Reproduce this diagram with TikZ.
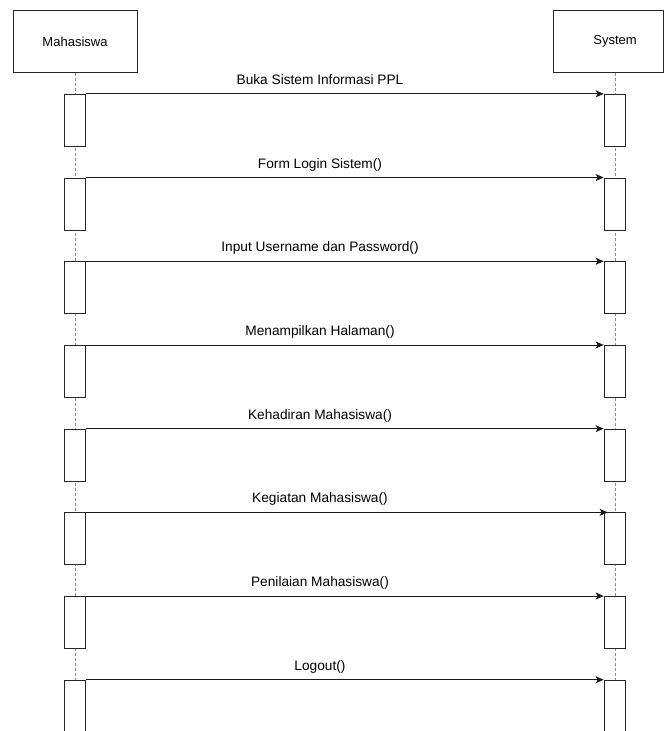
\documentclass[tikz,border=0pt]{standalone}
\usepackage{fontspec}
\setmainfont{Liberation Sans}
\usetikzlibrary{arrows.meta}
\begin{document}
\begin{tikzpicture}[x=1pt,y=-1pt,
  actorbox/.style={draw=black!85, line width=0.9pt, fill=white, minimum height=62pt, inner sep=0pt, font=\fontsize{13}{15}\selectfont},
  actortext/.style={inner sep=0pt, font=\fontsize{13}{15}\selectfont},
  actbox/.style={draw=black!85, line width=0.9pt, fill=white, minimum width=21.4pt, minimum height=52pt, inner sep=0pt},
  life/.style={draw=black!45, line width=1pt, dash pattern=on 3pt off 2pt},
  msg/.style={draw=black!90, line width=0.9pt, -{Stealth[length=8pt,width=7pt,inset=2pt]}},
  msglabel/.style={font=\fontsize{13.7}{16}\selectfont, anchor=base, inner sep=0pt}]
\useasboundingbox (0,0) rectangle (664,731);
\clip (0,0) rectangle (664,731);
% actors
\node[actorbox, minimum width=124pt] (mhs) at (75,41.7) {Mahasiswa};
\node[actorbox, minimum width=110.5pt] (sys) at (608.25,41.7) {};
\node[actortext] (systxt) at (615,41.7) {System};
\coordinate (mhsl) at (75,72.7);
\coordinate (sysl) at (615,72.7);
\coordinate (mhse) at (75,735);
\coordinate (syse) at (615,735);
% lifelines
\draw[life] (mhsl) -- (mhse);
\draw[life] (sysl) -- (syse);
% messages
\foreach \i/\t in {1/Buka Sistem Informasi PPL,
                   2/Form Login Sistem(),
                   3/Input Username dan Password(),
                   4/Menampilkan Halaman(),
                   5/Kehadiran Mahasiswa(),
                   6/Kegiatan Mahasiswa(),
                   7/Penilaian Mahasiswa(),
                   8/Logout()}{
  \pgfmathsetmacro{\ytop}{94.3+83.7*(\i-1)}
  \pgfmathsetmacro{\ymid}{\ytop+26}
  \pgfmathsetmacro{\ylab}{\ytop-10}
  \node[actbox] (m\i) at (75,\ymid) {};
  \node[actbox] (s\i) at (614.8,\ymid) {};
  \node[msglabel] (l\i) at (320,\ylab) {\t};
}
\foreach \i in {1,2,3,4,5,7,8}{
  \draw[msg] (m\i.north east) -- (s\i.north west);
}
\draw[msg] (m6.north east) -- ([xshift=4pt]s6.north west);
\end{tikzpicture}
\end{document}
